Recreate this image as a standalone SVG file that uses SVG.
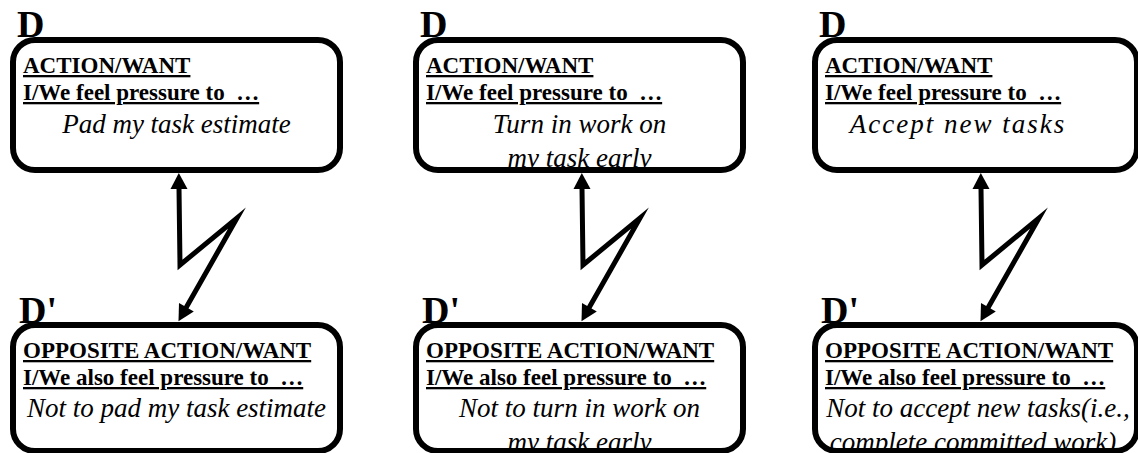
<svg xmlns="http://www.w3.org/2000/svg" width="1138" height="453" viewBox="0 0 1138 453">
<style>
.box{fill:#fff;stroke:#000;stroke-width:6}
.lbl{font-family:"Liberation Serif","Times New Roman",serif;font-weight:bold;font-size:38px;fill:#000}
.hd{font-family:"Liberation Serif","Times New Roman",serif;font-weight:bold;font-size:23px;fill:#000;text-decoration:underline}
.it{font-family:"Liberation Serif","Times New Roman",serif;font-style:italic;font-size:27px;fill:#000;text-anchor:middle}
.conn{fill:none;stroke:#000;stroke-width:5;stroke-linejoin:miter;stroke-miterlimit:10}
</style>
<defs>
<marker id="ah" markerUnits="userSpaceOnUse" markerWidth="17" markerHeight="17" viewBox="0 0 16 17" refX="1" refY="8.5" orient="auto-start-reverse">
<path d="M0,0 L16,8.5 L0,17 z" fill="#000"/>
</marker>
</defs>
<g id="connectors">
<path class="conn" d="M185.9,308.1 L237,218 L180,265 L179,188" marker-start="url(#ah)" marker-end="url(#ah)"/>
<path class="conn" d="M588.9,308.1 L640,218 L583,265 L582,188" marker-start="url(#ah)" marker-end="url(#ah)"/>
<path class="conn" d="M987.9,308.1 L1039,218 L982,265 L981,188" marker-start="url(#ah)" marker-end="url(#ah)"/>
</g>
<g id="d1" transform="translate(13,40)">
<rect class="box" x="0" y="0" width="327" height="130" rx="22"/>
<text class="lbl" x="4" y="-3">D</text>
<text class="hd" x="10" y="33">ACTION/WANT</text>
<text class="hd" x="10" y="60">I/We feel pressure to&#160; …</text>
<text class="it" x="163.5" y="93">Pad my task estimate</text>
</g>
<g id="d1p" transform="translate(13,325)">
<rect class="box" x="0" y="0" width="327" height="126" rx="22"/>
<text class="lbl" x="6" y="-2">D'</text>
<text class="hd" x="10" y="33">OPPOSITE ACTION/WANT</text>
<text class="hd" x="10" y="60">I/We also feel pressure to&#160; …</text>
<text class="it" x="163.5" y="92">Not to pad my task estimate</text>
</g>
<g id="d2" transform="translate(416,40)">
<rect class="box" x="0" y="0" width="327" height="130" rx="22"/>
<text class="lbl" x="4" y="-3">D</text>
<text class="hd" x="10" y="33">ACTION/WANT</text>
<text class="hd" x="10" y="60">I/We feel pressure to&#160; …</text>
<text class="it" x="163.5" y="93">Turn in work on</text>
<text class="it" x="163.5" y="127">my task early</text>
</g>
<g id="d2p" transform="translate(416,325)">
<rect class="box" x="0" y="0" width="327" height="126" rx="22"/>
<text class="lbl" x="6" y="-2">D'</text>
<text class="hd" x="10" y="33">OPPOSITE ACTION/WANT</text>
<text class="hd" x="10" y="60">I/We also feel pressure to&#160; …</text>
<text class="it" x="163.5" y="92">Not to turn in work on</text>
<text class="it" x="163.5" y="126">my task early</text>
</g>
<g id="d3" transform="translate(815,40)">
<rect class="box" x="0" y="0" width="322" height="130" rx="22"/>
<text class="lbl" x="4" y="-3">D</text>
<text class="hd" x="10" y="33">ACTION/WANT</text>
<text class="hd" x="10" y="60">I/We feel pressure to&#160; …</text>
<text class="it" x="143" y="93" letter-spacing="2">Accept new tasks</text>
</g>
<g id="d3p" transform="translate(815,325)">
<rect class="box" x="0" y="0" width="322" height="126" rx="22"/>
<text class="lbl" x="6" y="-2">D'</text>
<text class="hd" x="10" y="33">OPPOSITE ACTION/WANT</text>
<text class="hd" x="10" y="60">I/We also feel pressure to&#160; …</text>
<text class="it" x="163" y="92">Not to accept new tasks(i.e.,</text>
<text class="it" x="158" y="126">complete committed work)</text>
</g>
</svg>
